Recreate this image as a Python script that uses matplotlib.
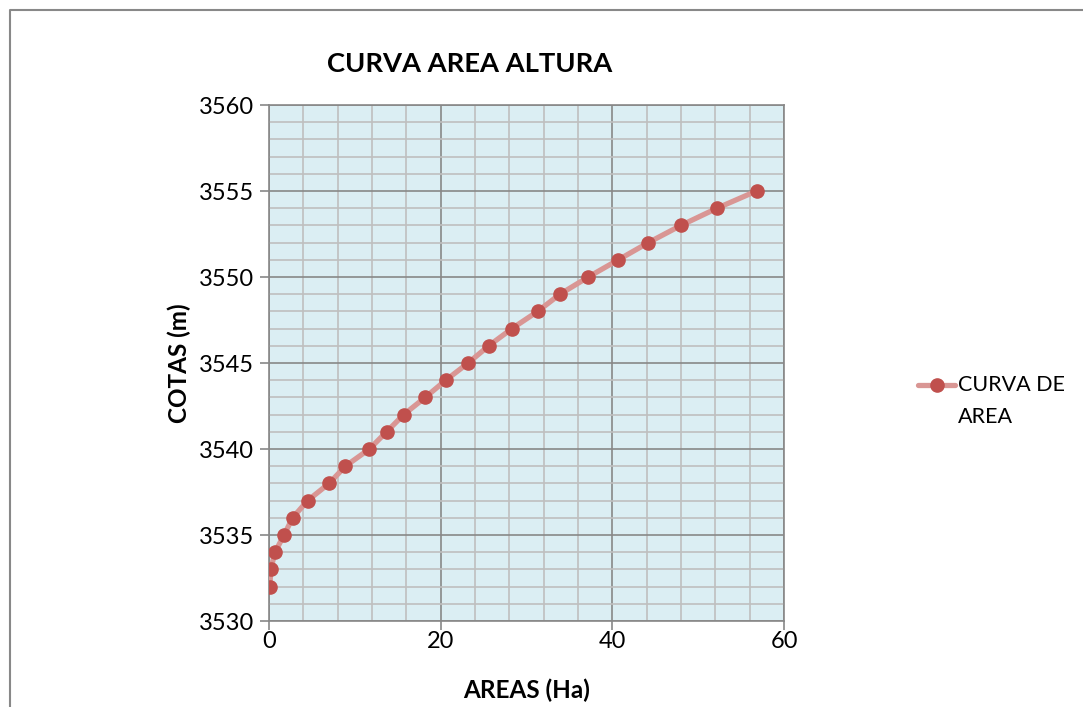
import matplotlib.pyplot as plt
from matplotlib.lines import Line2D
from matplotlib.ticker import MultipleLocator

plt.rcParams['font.family'] = ['Lato', 'DejaVu Sans']

# area (Ha) for each elevation (m)
areas = [0.1, 0.2, 0.7, 1.75, 2.75, 4.5, 7.0, 8.9, 11.7, 13.7, 15.7, 18.2,
         20.6, 23.2, 25.6, 28.3, 31.3, 33.9, 37.2, 40.7, 44.2, 48.0, 52.2, 56.8]
cotas = [3532, 3533, 3534, 3535, 3536, 3537, 3538, 3539, 3540, 3541, 3542, 3543,
         3544, 3545, 3546, 3547, 3548, 3549, 3550, 3551, 3552, 3553, 3554, 3555]

line_color = '#D99694'
marker_color = '#C0504D'

fig = plt.figure(figsize=(10.83, 7.07), dpi=100)
ax = fig.add_axes([269 / 1083, 1 - 621 / 707, 515 / 1083, 516 / 707])
ax.set_facecolor('#DBEEF3')

ax.plot(areas, cotas, color=line_color, linewidth=3.8, marker='o',
        markersize=9.5, markerfacecolor=marker_color, markeredgecolor=marker_color,
        solid_capstyle='round', zorder=3)

ax.set_xlim(0, 60)
ax.set_ylim(3530, 3560)
ax.xaxis.set_major_locator(MultipleLocator(20))
ax.xaxis.set_minor_locator(MultipleLocator(4))
ax.yaxis.set_major_locator(MultipleLocator(5))
ax.yaxis.set_minor_locator(MultipleLocator(1))
ax.grid(which='minor', color='#BFBFBF', linewidth=1.2)
ax.grid(which='major', color='#888888', linewidth=1.2)
ax.set_axisbelow(True)
ax.tick_params(which='minor', length=0)
ax.tick_params(which='major', length=6.5, width=1.2, color='#888888',
               labelsize=17)
ax.tick_params(axis='x', pad=0.5)
ax.tick_params(axis='y', pad=4)
for s in ax.spines.values():
    s.set_color('#888888')
    s.set_linewidth(1.2)

fig.text(470 / 1083, 1 - 72 / 707, 'CURVA AREA ALTURA', fontsize=19.7,
         fontweight='bold', ha='center', va='baseline')
ax.set_xlabel('AREAS (Ha)', fontsize=17.5, fontweight='bold', labelpad=19)
ax.set_ylabel('COTAS (m)', fontsize=17.5, fontweight='bold', labelpad=6)

# legend entry on the right
ly = 1 - 385 / 707
fig.add_artist(Line2D([918 / 1083, 955 / 1083], [ly, ly], color=line_color,
                      linewidth=3.8, solid_capstyle='round'))
fig.add_artist(Line2D([936.5 / 1083], [ly], marker='o', markersize=9.5,
                      color=marker_color, linestyle='none'))
fig.text(958 / 1083, ly, 'CURVA DE', fontsize=15.5, va='center', ha='left')
fig.text(958 / 1083, 1 - 417 / 707, 'AREA', fontsize=15.5, va='center', ha='left')

# chart area border
fig.add_artist(Line2D([10 / 1083, 10 / 1083, 1.0], [0.0, 1 - 10 / 707, 1 - 10 / 707],
                      color='#888888', linewidth=1.5))

fig.savefig('out.png', dpi=100)
